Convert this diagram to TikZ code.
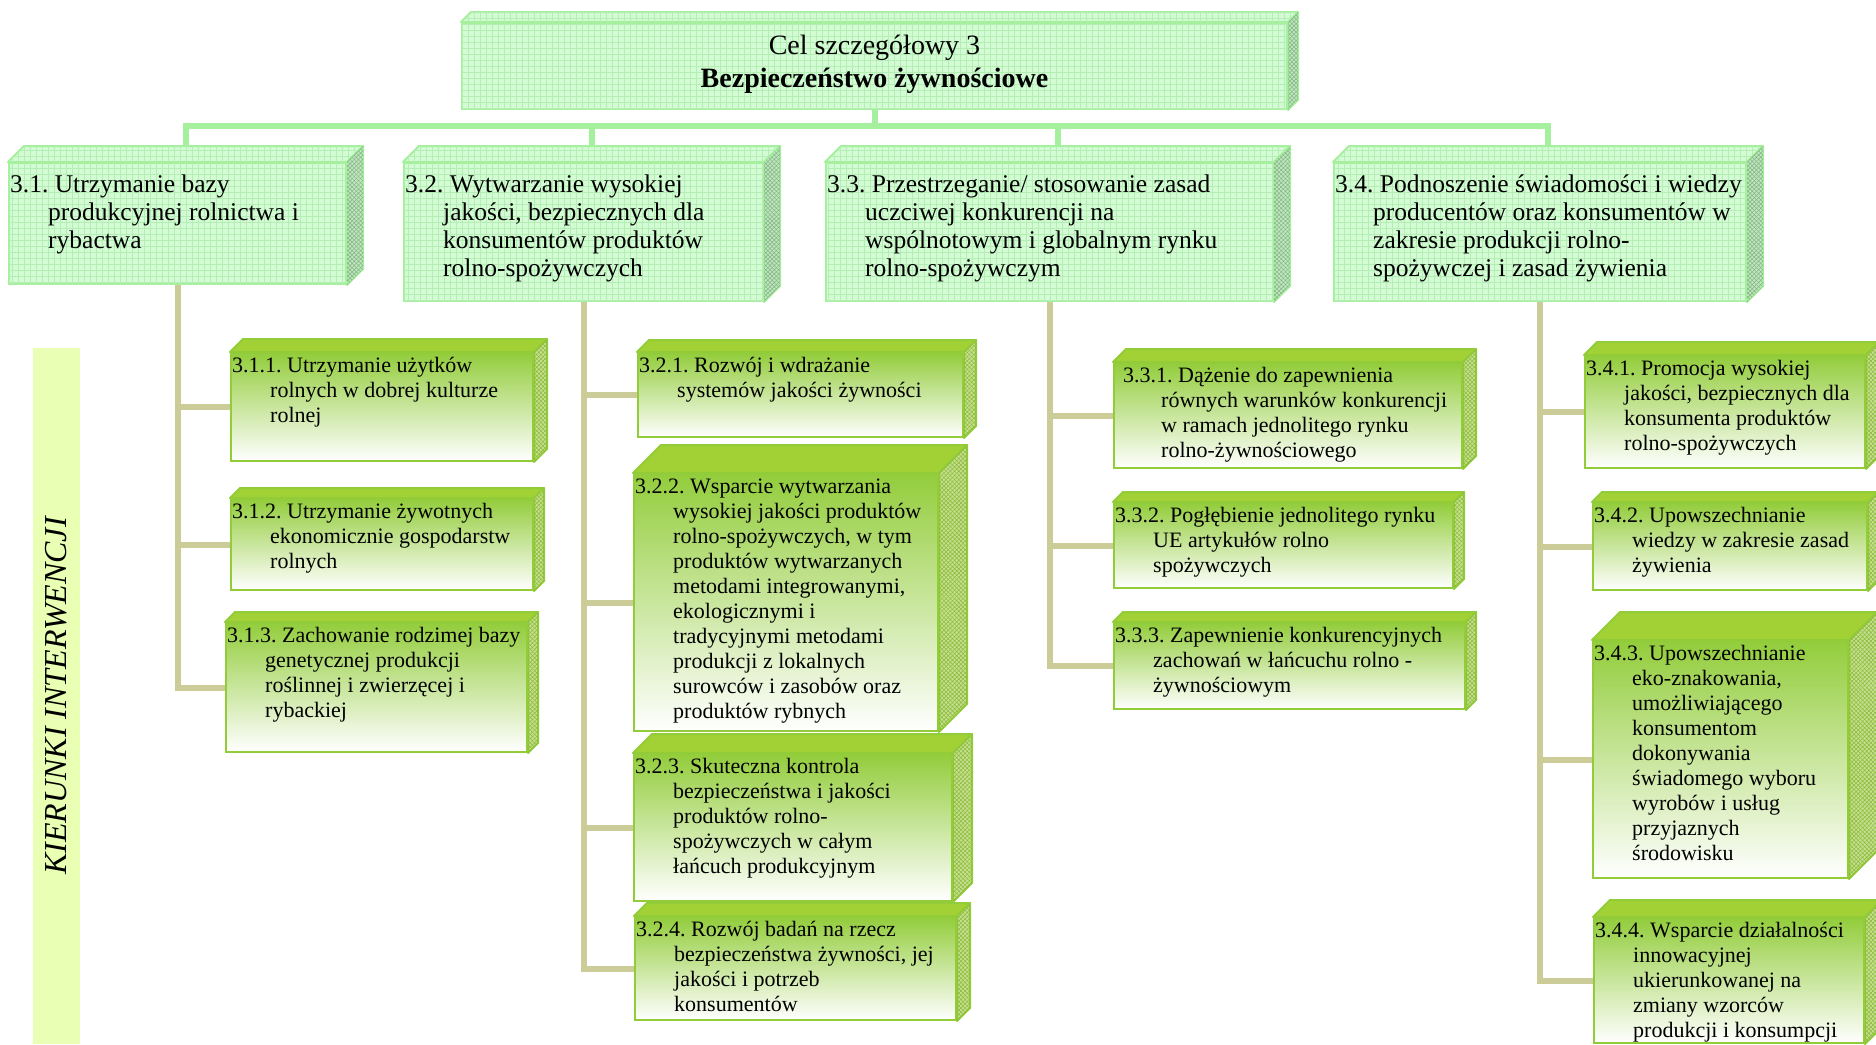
\documentclass[tikz,border=0pt]{standalone}
\usepackage{fontspec}
\setmainfont{Liberation Serif}
\usepackage{tikz}
\usetikzlibrary{positioning,calc,patterns.meta}

\definecolor{mintfill}{HTML}{D4FCD4}
\definecolor{mintgrid}{HTML}{B4EEB4}
\definecolor{mintline}{HTML}{A4F09C}
\definecolor{mintside}{HTML}{BDE8BD}
\definecolor{leafgreen}{HTML}{93CD3C}
\definecolor{leaftopc}{HTML}{A2D135}
\definecolor{leafsidec}{HTML}{C4DF8E}
\definecolor{leafhatch}{HTML}{8DBA3A}
\definecolor{leafline}{HTML}{92CC38}
\definecolor{trunkc}{HTML}{CCCC99}
\definecolor{bandc}{HTML}{E8FFB4}

\newcommand{\ind}{\hspace*{38pt}}
\newcommand{\txtlines}[1]{\begin{tabular}[t]{@{}l@{}}#1\end{tabular}}
% #1 name, #2 kind (goal/leaf), #3 x, #4 y, #5 width, #6 height, #7 depth
\newcommand{\cuboid}[7]{%
  \node[#2front, minimum width=#5, minimum height=#6] (#1) at (#3,#4) {};
  \path[#2top] (#1.north west) -- ++(#7,-#7) -- ([shift={(#7,-#7)}]#1.north east) -- (#1.north east) -- cycle;
  \path[#2side] (#1.north east) -- ++(#7,-#7) -- ([shift={(#7,-#7)}]#1.south east) -- (#1.south east) -- cycle;
}

\tikzset{
  goalfront/.style={anchor=north west, inner sep=0, draw=mintline, line width=2pt, fill=mintfill,
    postaction={pattern={Hatch[angle=0,distance=6pt,line width=0.5pt]}, pattern color=mintgrid}},
  goaltop/.style={draw=mintline, line width=2pt, line join=round, fill=mintfill,
    postaction={pattern={Hatch[angle=0,distance=6pt,line width=0.5pt]}, pattern color=mintgrid}},
  goalside/.style={draw=mintline, line width=2pt, line join=round, fill=mintside,
    postaction={pattern={Hatch[angle=45,distance=3pt,line width=0.5pt]}, pattern color=mintgrid!75!black}},
  leaffront/.style={anchor=north west, inner sep=0, draw=leafline, line width=2pt, top color=leafgreen, bottom color=white},
  leaftop/.style={draw=leafline, line width=2pt, line join=round, fill=leaftopc},
  leafside/.style={draw=leafline, line width=2pt, line join=round, fill=leafsidec,
    postaction={pattern={Hatch[angle=45,distance=3pt,line width=0.5pt]}, pattern color=leafhatch}},
  goaltext/.style={anchor=north west, inner xsep=2pt, inner ysep=10pt, font=\fontsize{25.5}{28.3}\selectfont},
  leaftext/.style={anchor=north west, inner xsep=2pt, inner ysep=2.5pt, font=\fontsize{22}{25}\selectfont},
  greenline/.style={draw=mintline, line width=6pt},
  trunkline/.style={draw=trunkc, line width=6pt},
  band/.style={fill=bandc, inner sep=0, font=\fontsize{32}{36}\selectfont\itshape},
}

\begin{document}
\frenchspacing
\begin{tikzpicture}[x=1pt,y=-1pt]
    \useasboundingbox (0,0) rectangle (1876,1044);
    \clip (0,0) rectangle (1876,1044);

    % side band
    \node[band, rotate=90, minimum width=696, minimum height=47] (band) at (56.5,696) {KIERUNKI INTERWENCJI};

    % goal
    \cuboid{goal}{goal}{461}{22}{825}{86}{10}
    \node[font=\fontsize{28}{33}\selectfont, align=center] (goalt) at ([yshift=2pt]goal.center)
        {Cel szczegółowy 3\\\textbf{Bezpieczeństwo żywnościowe}};

    % priorities
    \cuboid{L31}{goal}{8}{162}{337}{121}{16}
    \cuboid{L32}{goal}{403}{162}{359}{138}{16}
    \cuboid{L33}{goal}{825}{162}{447}{138}{16}
    \cuboid{L34}{goal}{1333}{162}{412}{138}{16}
    \node[goaltext] (L31t) at (L31.north west) {\txtlines{3.1. Utrzymanie bazy\\\ind produkcyjnej rolnictwa i\\\ind rybactwa}};
    \node[goaltext] (L32t) at (L32.north west) {\txtlines{3.2. Wytwarzanie wysokiej\\\ind jakości, bezpiecznych dla\\\ind konsumentów produktów\\\ind rolno-spożywczych}};
    \node[goaltext] (L33t) at (L33.north west) {\txtlines{3.3. Przestrzeganie/ stosowanie zasad\\\ind uczciwej konkurencji na\\\ind wspólnotowym i globalnym rynku\\\ind rolno-spożywczym}};
    \node[goaltext] (L34t) at (L34.north west) {\txtlines{3.4. Podnoszenie świadomości i wiedzy\\\ind producentów oraz konsumentów w\\\ind zakresie produkcji rolno-\\\ind spożywczej i zasad żywienia}};

    % directions
    \cuboid{a311}{leaf}{230}{352}{302}{108}{13}
    \cuboid{a312}{leaf}{230}{498}{302}{91}{10}
    \cuboid{a313}{leaf}{225}{622}{301}{129}{10}
    \cuboid{a321}{leaf}{637}{352}{325}{84}{12}
    \cuboid{a322}{leaf}{633}{473}{304}{257}{28}
    \cuboid{a323}{leaf}{633}{753}{318}{147}{19}
    \cuboid{a324}{leaf}{634}{916}{321}{103}{13}
    \cuboid{a331}{leaf}{1113}{362}{348}{105}{13}
    \cuboid{a332}{leaf}{1113}{502}{339}{85}{10}
    \cuboid{a333}{leaf}{1113}{622}{351}{86}{10}
    \cuboid{a341}{leaf}{1584}{355}{280}{112}{13}
    \cuboid{a342}{leaf}{1592}{502}{274}{87}{10}
    \cuboid{a343}{leaf}{1592}{640}{255}{237}{28}
    \cuboid{a344}{leaf}{1593}{917}{270}{125}{17}

    \node[leaftext] (a311t) at (a311.north west) {\txtlines{3.1.1. Utrzymanie użytków\\\ind rolnych w dobrej kulturze\\\ind rolnej}};
    \node[leaftext] (a312t) at (a312.north west) {\txtlines{3.1.2. Utrzymanie żywotnych\\\ind ekonomicznie gospodarstw\\\ind rolnych}};
    \node[leaftext] (a313t) at (a313.north west) {\txtlines{3.1.3. Zachowanie rodzimej bazy\\\ind genetycznej produkcji\\\ind roślinnej i zwierzęcej i\\\ind rybackiej}};
    \node[leaftext] (a321t) at (a321.north west) {\txtlines{3.2.1. Rozwój i wdrażanie\\\ind systemów jakości żywności}};
    \node[leaftext] (a322t) at (a322.north west) {\txtlines{3.2.2. Wsparcie wytwarzania\\\ind wysokiej jakości produktów\\\ind rolno-spożywczych, w tym\\\ind produktów wytwarzanych\\\ind metodami integrowanymi,\\\ind ekologicznymi i\\\ind tradycyjnymi metodami\\\ind produkcji z lokalnych\\\ind surowców i zasobów oraz\\\ind produktów rybnych}};
    \node[leaftext] (a323t) at (a323.north west) {\txtlines{3.2.3. Skuteczna kontrola\\\ind bezpieczeństwa i jakości\\\ind produktów rolno-\\\ind spożywczych w całym\\\ind łańcuch produkcyjnym}};
    \node[leaftext] (a324t) at (a324.north west) {\txtlines{3.2.4. Rozwój badań na rzecz\\\ind bezpieczeństwa żywności, jej\\\ind jakości i potrzeb\\\ind konsumentów}};
    \node[leaftext, xshift=8pt] (a331t) at (a331.north west) {\txtlines{3.3.1. Dążenie do zapewnienia\\\ind równych warunków konkurencji\\\ind w ramach jednolitego rynku\\\ind rolno-żywnościowego}};
    \node[leaftext] (a332t) at (a332.north west) {\txtlines{3.3.2. Pogłębienie jednolitego rynku\\\ind UE artykułów rolno\\\ind spożywczych}};
    \node[leaftext] (a333t) at (a333.north west) {\txtlines{3.3.3. Zapewnienie konkurencyjnych\\\ind zachowań w łańcuchu rolno -\\\ind żywnościowym}};
    \node[leaftext] (a341t) at (a341.north west) {\txtlines{3.4.1. Promocja wysokiej\\\ind jakości, bezpiecznych dla\\\ind konsumenta produktów\\\ind rolno-spożywczych}};
    \node[leaftext] (a342t) at (a342.north west) {\txtlines{3.4.2. Upowszechnianie\\\ind wiedzy w zakresie zasad\\\ind żywienia}};
    \node[leaftext] (a343t) at (a343.north west) {\txtlines{3.4.3. Upowszechnianie\\\ind eko-znakowania,\\\ind umożliwiającego\\\ind konsumentom\\\ind dokonywania\\\ind świadomego wyboru\\\ind wyrobów i usług\\\ind przyjaznych\\\ind środowisku}};
    \node[leaftext] (a344t) at (a344.north west) {\txtlines{3.4.4. Wsparcie działalności\\\ind innowacyjnej\\\ind ukierunkowanej na\\\ind zmiany wzorców\\\ind produkcji i konsumpcji}};

    % goal -> priorities
    \coordinate (bar) at (873,126);
    \coordinate (t31) at ([shift={(8,-16)}]L31.north);
    \coordinate (t32) at ([shift={(8,-16)}]L32.north);
    \coordinate (t33) at ([shift={(8,-16)}]L33.north);
    \coordinate (t34) at ([shift={(8,-16)}]L34.north);
    \draw[greenline] (goal.south) -- (goal.south |- bar);
    \draw[greenline] (t31) -- (t31 |- bar) -- (t34 |- bar) -- (t34);
    \draw[greenline] (t32 |- bar) -- (t32);
    \draw[greenline] (t33 |- bar) -- (t33);

    % priorities -> directions
    \draw[trunkline] (L31.south) |- (a313.west);
    \draw[trunkline] (L31.south |- a311.west) -- (a311.west);
    \draw[trunkline] (L31.south |- a312.west) -- (a312.west);
    \draw[trunkline] (L32.south) |- (a324.west);
    \draw[trunkline] (L32.south |- a321.west) -- (a321.west);
    \draw[trunkline] (L32.south |- a322.west) -- (a322.west);
    \draw[trunkline] (L32.south |- a323.west) -- (a323.west);
    \draw[trunkline] (L33.south) |- (a333.west);
    \draw[trunkline] (L33.south |- a331.west) -- (a331.west);
    \draw[trunkline] (L33.south |- a332.west) -- (a332.west);
    \draw[trunkline] (L34.south) |- (a344.west);
    \draw[trunkline] (L34.south |- a341.west) -- (a341.west);
    \draw[trunkline] (L34.south |- a342.west) -- (a342.west);
    \draw[trunkline] (L34.south |- a343.west) -- (a343.west);
\end{tikzpicture}
\end{document}
